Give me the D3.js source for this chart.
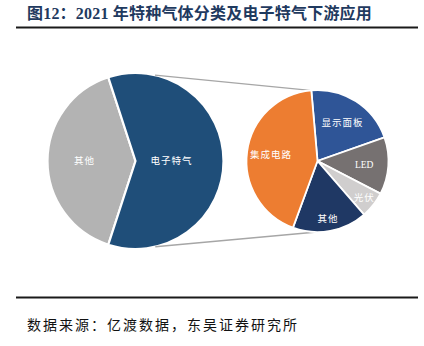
<!DOCTYPE html>
<html>
<head>
<meta charset="utf-8">
<script src="https://cdn.jsdelivr.net/npm/d3@7/dist/d3.min.js"></script>
<style>
  html, body { margin: 0; padding: 0; background: #fff; }
  svg { display: block; }
</style>
</head>
<body>
<svg id="chart" width="424" height="346"></svg>
<script>
// 2021 special gas split (left) and electronic special gas downstream use (right), %
const gasCategories = ["其他", "电子特气"];
const gasShares = [40, 60];

const useCategories = ["显示面板", "LED", "光伏", "其他", "集成电路"];
const useShares = [21, 13, 6, 17, 43];

const titleText = "图12：2021 年特种气体分类及电子特气下游应用";
const sourceText = "数据来源：亿渡数据，东吴证券研究所";

const gasColors = { "电子特气": "#1f4e79", "其他": "#b3b3b3" };
const useColors = {
  "显示面板": "#2f5597",
  "LED": "#767171",
  "光伏": "#d0cece",
  "其他": "#1f3864",
  "集成电路": "#ed7d31"
};

// label distance from the centre, as a fraction of the radius
const gasLabelR = { "电子特气": 0.41, "其他": 0.58 };
const useLabelR = { "显示面板": 0.65, "LED": 0.66, "光伏": 0.84, "其他": 0.82, "集成电路": 0.66 };

const svg = d3.select("#chart");
const deg = Math.PI / 180;
const cjk = "'Noto Sans CJK SC', 'Noto Sans', sans-serif";

// header
svg.append("text")
  .attr("x", 27).attr("y", 19)
  .attr("font-family", "'Liberation Serif', " + cjk)
  .attr("font-weight", "bold")
  .attr("font-size", 16)
  .attr("letter-spacing", 0.2)
  .attr("fill", "#1f3a5f")
  .text(titleText);

svg.append("line")
  .attr("x1", 16).attr("x2", 418).attr("y1", 27.5).attr("y2", 27.5)
  .attr("stroke", "#1a1a1a").attr("stroke-width", 2);

svg.append("line")
  .attr("x1", 16).attr("x2", 418).attr("y1", 297.5).attr("y2", 297.5)
  .attr("stroke", "#1a1a1a").attr("stroke-width", 2);

svg.append("text")
  .attr("x", 27).attr("y", 330)
  .attr("font-family", cjk)
  .attr("font-size", 14)
  .attr("letter-spacing", 2)
  .attr("fill", "#111")
  .text(sourceText);

// left pie
const left = { cx: 135.5, cy: 161, r: 88 };
const gasData = gasCategories.map((c, i) => ({ name: c, value: gasShares[i] }));
const gasSpan = gasShares[1] / d3.sum(gasShares) * 360;
// electronic gas slice is centred on the right-hand side
const gasStart = 90 - gasSpan / 2;
const gasPie = d3.pie().value(d => d.value).sort(null)
  .startAngle((gasStart + gasSpan - 360) * deg)
  .endAngle((gasStart + gasSpan) * deg);
const gasArcs = gasPie(gasData);
const gasArc = d3.arc().innerRadius(0).outerRadius(left.r);

const gL = svg.append("g").attr("transform", `translate(${left.cx},${left.cy})`);
gL.selectAll("path").data(gasArcs).join("path")
  .attr("d", gasArc)
  .attr("fill", d => gasColors[d.data.name])
  .attr("stroke", "#fff").attr("stroke-width", 2.2).attr("stroke-linejoin", "miter");

gL.selectAll("text").data(gasArcs).join("text")
  .attr("transform", d => {
    const a = (d.startAngle + d.endAngle) / 2;
    const k = gasLabelR[d.data.name] * left.r;
    return `translate(${Math.sin(a) * k},${-Math.cos(a) * k})`;
  })
  .attr("text-anchor", "middle").attr("dy", "0.35em")
  .attr("font-family", cjk).attr("font-size", 9.5)
  .attr("letter-spacing", 1)
  .attr("fill", "#fff")
  .text(d => d.data.name);

// right pie
const right = { cx: 317.5, cy: 161, r: 71 };
const useData = useCategories.map((c, i) => ({ name: c, value: useShares[i] }));
const useStart = -5 * deg;
const usePie = d3.pie().value(d => d.value).sort(null)
  .startAngle(useStart).endAngle(useStart + 2 * Math.PI);
const useArcs = usePie(useData);
const useArc = d3.arc().innerRadius(0).outerRadius(right.r);

// connector lines from the electronic gas slice to the right pie
const pt = (c, ang, rr) => [c.cx + Math.sin(ang) * rr, c.cy - Math.cos(ang) * rr];
const connectors = [
  [pt(left, 12.8 * deg, left.r), pt(right, useStart - 1 * deg, right.r)],
  [pt(left, 167 * deg, left.r), pt(right, 180.5 * deg, right.r)]
];
svg.append("g").selectAll("line").data(connectors).join("line")
  .attr("x1", d => d[0][0]).attr("y1", d => d[0][1])
  .attr("x2", d => d[1][0]).attr("y2", d => d[1][1])
  .attr("stroke", "#a6a6a6").attr("stroke-width", 1.3);

const gR = svg.append("g").attr("transform", `translate(${right.cx},${right.cy})`);
gR.selectAll("path").data(useArcs).join("path")
  .attr("d", useArc)
  .attr("fill", d => useColors[d.data.name])
  .attr("stroke", "#fff").attr("stroke-width", 1.8).attr("stroke-linejoin", "miter");

gR.selectAll("text").data(useArcs).join("text")
  .attr("transform", d => {
    const a = (d.startAngle + d.endAngle) / 2;
    const k = useLabelR[d.data.name] * right.r;
    return `translate(${Math.sin(a) * k},${-Math.cos(a) * k})`;
  })
  .attr("text-anchor", "middle").attr("dy", "0.35em")
  .attr("font-family", d => d.data.name === "LED" ? "'Liberation Serif', serif" : cjk)
  .attr("font-size", 9.5)
  .attr("letter-spacing", d => d.data.name === "LED" ? 0 : 1)
  .attr("fill", "#fff")
  .text(d => d.data.name);
</script>
</body>
</html>
